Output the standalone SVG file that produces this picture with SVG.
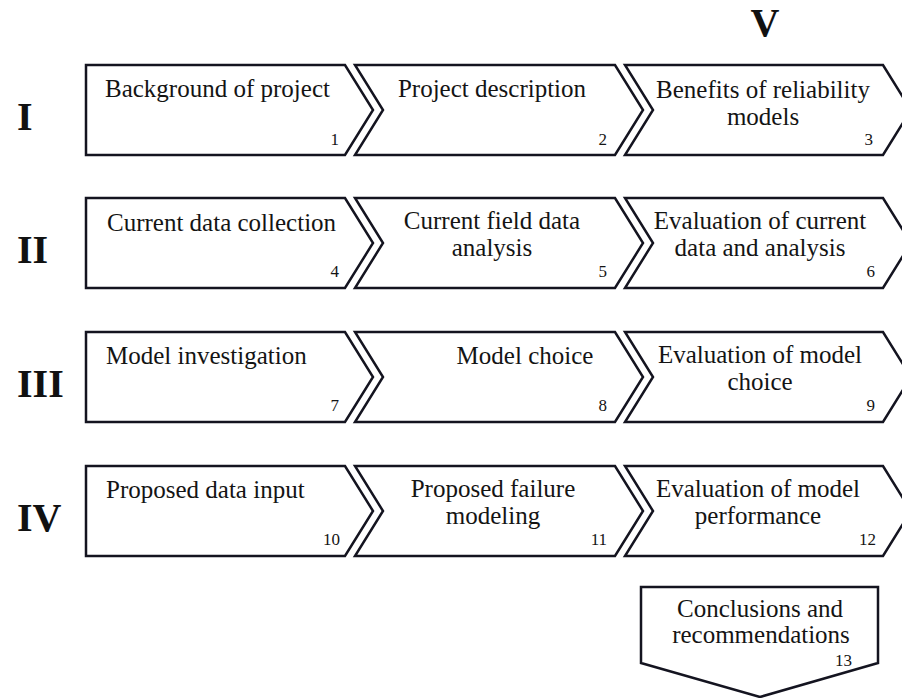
<svg xmlns="http://www.w3.org/2000/svg" width="902" height="698" viewBox="0 0 902 698">
<style>
.box{fill:#fff;stroke:#141420;stroke-width:2.5;stroke-linejoin:miter}
.t{font-family:"Liberation Serif","Times New Roman",serif;font-size:25px;fill:#141414}
.c{text-anchor:middle}
.n{font-family:"Liberation Serif","Times New Roman",serif;font-size:17px;fill:#141414;text-anchor:end}
.r{font-family:"Liberation Serif","Times New Roman",serif;font-size:40px;font-weight:bold;fill:#111}
</style>
<rect width="902" height="698" fill="#fff"/>
<g id="labels">
<text class="r" x="17" y="130">I</text>
<text class="r" x="17" y="263">II</text>
<text class="r" x="17" y="397">III</text>
<text class="r" x="17" y="531">IV</text>
<text class="r c" x="765" y="36">V</text>
</g>
<g id="connectors"></g>
<!-- Row I -->
<g id="n1"><path class="box" d="M86,65 H345 L373,110 L345,155 H86 Z"/><text class="t" x="105" y="97">Background of project</text><text class="n" x="339" y="145">1</text></g>
<g id="n2"><path class="box" d="M355,65 H615 L643,110 L615,155 H355 L383,110 Z"/><text class="t c" x="492" y="97">Project description</text><text class="n" x="607" y="145">2</text></g>
<g id="n3"><path class="box" d="M625,65 H883 L911,110 L883,155 H625 L653,110 Z"/><text class="t c" x="763" y="98">Benefits of reliability</text><text class="t c" x="763" y="125">models</text><text class="n" x="873" y="145">3</text></g>
<!-- Row II -->
<g id="n4"><path class="box" d="M86,198 H345 L373,243 L345,288 H86 Z"/><text class="t" x="107" y="231">Current data collection</text><text class="n" x="339" y="277">4</text></g>
<g id="n5"><path class="box" d="M355,198 H615 L643,243 L615,288 H355 L383,243 Z"/><text class="t c" x="492" y="229">Current field data</text><text class="t c" x="492" y="256">analysis</text><text class="n" x="607" y="277">5</text></g>
<g id="n6"><path class="box" d="M625,198 H883 L911,243 L883,288 H625 L653,243 Z"/><text class="t c" x="760" y="229">Evaluation of current</text><text class="t c" x="760" y="256">data and analysis</text><text class="n" x="875" y="277">6</text></g>
<!-- Row III -->
<g id="n7"><path class="box" d="M86,332 H345 L373,377 L345,422 H86 Z"/><text class="t" x="106" y="364">Model investigation</text><text class="n" x="339" y="411">7</text></g>
<g id="n8"><path class="box" d="M355,332 H615 L643,377 L615,422 H355 L383,377 Z"/><text class="t c" x="525" y="364">Model choice</text><text class="n" x="607" y="411">8</text></g>
<g id="n9"><path class="box" d="M625,332 H883 L911,377 L883,422 H625 L653,377 Z"/><text class="t c" x="760" y="363">Evaluation of model</text><text class="t c" x="760" y="390">choice</text><text class="n" x="875" y="411">9</text></g>
<!-- Row IV -->
<g id="n10"><path class="box" d="M86,466 H345 L373,511 L345,556 H86 Z"/><text class="t" x="106" y="498">Proposed data input</text><text class="n" x="340" y="545">10</text></g>
<g id="n11"><path class="box" d="M355,466 H615 L643,511 L615,556 H355 L383,511 Z"/><text class="t c" x="493" y="497">Proposed failure</text><text class="t c" x="493" y="524">modeling</text><text class="n" x="607" y="545">11</text></g>
<g id="n12"><path class="box" d="M625,466 H883 L911,511 L883,556 H625 L653,511 Z"/><text class="t c" x="758" y="497">Evaluation of model</text><text class="t c" x="758" y="524">performance</text><text class="n" x="876" y="545">12</text></g>
<!-- Conclusions -->
<g id="n13"><path class="box" d="M641,587 H878 V663 L760,697 L641,663 Z"/><text class="t c" x="760" y="617">Conclusions and</text><text class="t c" x="761" y="643">recommendations</text><text class="n" x="852" y="666">13</text></g>
</svg>
